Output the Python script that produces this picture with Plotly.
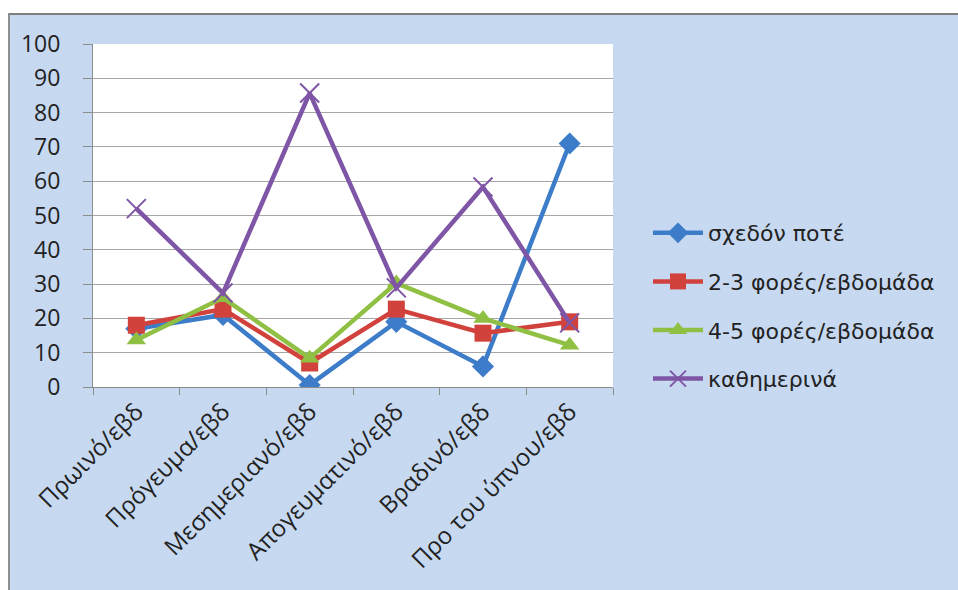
import plotly.graph_objects as go

categories = ["Πρωινό/εβδ", "Πρόγευμα/εβδ", "Μεσημεριανό/εβδ",
              "Απογευματινό/εβδ", "Βραδινό/εβδ", "Προ του ύπνου/εβδ"]

series_names = ["σχεδόν ποτέ", "2-3 φορές/εβδομάδα", "4-5 φορές/εβδομάδα", "καθημερινά"]
almost_never = [17, 21, 0.6, 19, 6, 71]
two_three_week = [18, 22.7, 7, 22.7, 15.7, 19]
four_five_week = [13.7, 26, 8.4, 30.3, 20, 12.2]
daily = [52, 27.4, 85.7, 28.9, 58.3, 18.7]

y_ticks = list(range(0, 101, 10))

colors = ["#3d7cc9", "#d2423d", "#8fc043", "#7f55a6"]
symbols = ["diamond", "square", "triangle-up", "x-thin-open"]
sizes = [17, 17, 17, 19]

W, H = 958, 590
L, R, T, B = 93, 345, 44, 203
PW, PH = W - L - R, H - T - B
FONT = "Open Sans"
TEXT = "#222222"


def px_x(x):
    return (x - L) / PW


def px_y(y):
    return (H - B - y) / PH


fig = go.Figure()
for i, (name, vals) in enumerate(zip(series_names,
                                     [almost_never, two_three_week, four_five_week, daily])):
    marker = dict(symbol=symbols[i], size=sizes[i], color=colors[i])
    if symbols[i].endswith("open"):
        marker["line"] = dict(color=colors[i], width=2)
    fig.add_trace(go.Scatter(
        x=categories, y=vals, name=name, mode="lines+markers",
        line=dict(color=colors[i], width=4.5),
        marker=marker, legendgroup=f"g{i}",
    ))

# white strips at the top and left edges of the page, grey frame lines
fig.add_shape(type="rect", xref="paper", yref="paper",
              x0=px_x(0), x1=px_x(8), y0=px_y(H), y1=px_y(0),
              fillcolor="white", line_width=0, layer="below")
fig.add_shape(type="rect", xref="paper", yref="paper",
              x0=px_x(0), x1=px_x(W), y0=px_y(13), y1=px_y(0),
              fillcolor="white", line_width=0, layer="below")
fig.add_shape(type="line", xref="paper", yref="paper",
              x0=px_x(8), x1=px_x(W), y0=px_y(14), y1=px_y(14),
              line=dict(color="#7f7f7f", width=2), layer="below")
fig.add_shape(type="line", xref="paper", yref="paper",
              x0=px_x(9), x1=px_x(9), y0=px_y(13), y1=px_y(H),
              line=dict(color="#8f8f8f", width=2), layer="below")

fig.update_layout(
    width=W, height=H,
    margin=dict(l=L, r=R, t=T, b=B),
    paper_bgcolor="#c6d9f1",
    plot_bgcolor="white",
    font=dict(family=FONT, color=TEXT),
    showlegend=True,
    legend=dict(
        x=px_x(648), y=px_y(212),
        xanchor="left", yanchor="top",
        bgcolor="rgba(0,0,0,0)",
        font=dict(size=22, family="DejaVu Sans", color=TEXT),
        tracegroupgap=17, itemwidth=50,
    ),
    xaxis=dict(
        type="category", tickangle=-45, tickson="boundaries",
        ticks="outside", ticklen=7, tickcolor="#8c8c8c",
        showline=True, linecolor="#8c8c8c", linewidth=1,
        showgrid=False, tickfont=dict(size=24, family=FONT, color=TEXT),
        range=[-0.5, 5.5],
    ),
    yaxis=dict(
        range=[0, 100], tickvals=y_ticks, ticks="outside", ticklen=9,
        tickcolor="#8c8c8c", showline=True, linecolor="#8c8c8c", linewidth=1,
        showgrid=True, gridcolor="#a6a6a6", gridwidth=1, zeroline=False,
        tickfont=dict(size=23, family=FONT, color=TEXT),
        ticklabelstandoff=18,
    ),
)

fig.write_html("out.html")
